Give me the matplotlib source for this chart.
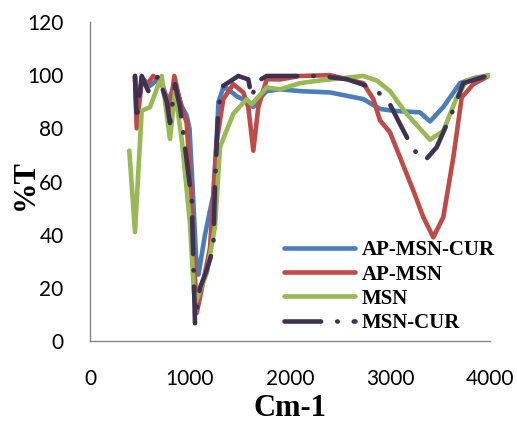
import matplotlib
matplotlib.use('Agg')
import matplotlib.pyplot as plt

# AP-MSN-CUR
blue_x = [450, 470, 520, 600, 700, 780, 850, 920, 965, 995, 1030, 1060, 1085, 1150,
          1233, 1265, 1285, 1330, 1370, 1470, 1580, 1633, 1690, 1767, 1900, 2100,
          2400, 2733, 2900, 3033, 3300, 3400, 3533, 3700, 3850, 4000]
blue_y = [99, 85, 99, 96, 99, 90, 97, 88, 85, 80, 55, 32, 25, 40,
          55, 75, 90, 95, 95, 92, 90, 88, 91, 94, 94.7, 94,
          93.5, 91, 87.3, 86.6, 86, 82.6, 88, 97, 99, 100]

# AP-MSN
red_x = [450, 467, 517, 560, 633, 717, 800, 843, 900, 967, 1010, 1067, 1150, 1200,
         1267, 1333, 1433, 1533, 1583, 1633, 1683, 1767, 1900, 2100, 2400, 2733,
         2833, 2900, 3000, 3233, 3333, 3433, 3533, 3633, 3717, 3833, 4000]
red_y = [99.7, 80, 98, 96, 99.7, 97, 86.6, 99.7, 90, 82, 55, 10.5, 25.5, 35,
         75, 91, 96.6, 93.5, 88, 71.6, 88, 98.5, 98.4, 99.7, 100, 97,
         91, 83, 78.5, 56.6, 46.6, 39, 46.6, 69, 91.6, 96.6, 100]

# MSN
green_x = [393, 450, 517, 600, 717, 800, 850, 920, 1000, 1040, 1060, 1167, 1250,
           1300, 1433, 1567, 1617, 1767, 1900, 2100, 2300, 2730, 2867, 3000, 3167,
           3400, 3533, 3667, 3767, 3967, 4000]
green_y = [71.6, 41, 86.6, 88, 99.7, 76, 94, 75, 44, 18, 15, 25.5, 43,
           73, 85.5, 91, 89, 95.4, 94.7, 97, 98, 99.7, 98, 94, 85.4,
           75.7, 79, 91.6, 98, 99.7, 100]

# MSN-CUR
dark_x = [450, 467, 517, 583, 683, 767, 800, 850, 900, 950, 1017, 1050, 1100, 1167,
          1233, 1250, 1283, 1333, 1483, 1583, 1617, 1667, 1767, 2100, 2300, 2567,
          2767, 2900, 3000, 3100, 3233, 3350, 3467, 3633, 3733, 3967, 4000]
dark_y = [99.7, 83, 99.7, 94, 99.7, 90, 82, 96.6, 88, 73, 53, 6.7, 20, 26.6,
          35, 59, 88, 96, 99.7, 98.4, 91.6, 97.5, 99.7, 99.7, 99.7, 98.5,
          96, 93, 89, 81.6, 72, 67.9, 72.9, 87, 97, 99.7, 100]

fig = plt.figure(figsize=(5.17, 4.21), dpi=100)
ax = fig.add_axes([90 / 517, 1 - 341 / 421, 400 / 517, 319 / 421])

ax.plot(blue_x, blue_y, color='#4A7EBB', lw=3.3, solid_capstyle='round', label='AP-MSN-CUR')
ax.plot(red_x, red_y, color='#BE4B48', lw=3.3, solid_capstyle='round', label='AP-MSN')
ax.plot(green_x, green_y, color='#98B954', lw=3.3, solid_capstyle='round', label='MSN')
ax.plot(dark_x, dark_y, color='#3F3151', lw=3.3, dash_capstyle='round',
        linestyle=(0, (8, 3.5, 0.1, 3.5)), label='MSN-CUR')

ax.set_xlim(0, 4000)
ax.set_ylim(0, 120)
ax.set_xticks([0, 1000, 2000, 3000, 4000])
ax.set_yticks([0, 20, 40, 60, 80, 100, 120])
ax.tick_params(length=0, labelsize=15)
for lab in ax.get_xticklabels() + ax.get_yticklabels():
    lab.set_family('Lato')
ax.tick_params(axis='y', pad=19)
ax.tick_params(axis='x', pad=20)

for s in ['top', 'right']:
    ax.spines[s].set_visible(False)
for s in ['left', 'bottom']:
    ax.spines[s].set_color('#868686')
    ax.spines[s].set_linewidth(1)

fig.text(290 / 517, 1 - 408 / 421, 'Cm-1', family='Liberation Serif', weight='bold',
         fontsize=22, ha='center', va='center')
fig.text(25 / 517, 1 - 185 / 421, '%T', family='Liberation Serif', weight='bold',
         fontsize=22, ha='center', va='center', rotation=90)

ax.legend(loc='upper left', bbox_to_anchor=(274 / 517, 1 - 230 / 421),
          bbox_transform=fig.transFigure, frameon=False, borderpad=0,
          handlelength=3.4, handletextpad=0.3, labelspacing=0.2,
          prop={'family': 'Liberation Serif', 'weight': 'bold', 'size': 15})

fig.savefig('out.png', dpi=100)
